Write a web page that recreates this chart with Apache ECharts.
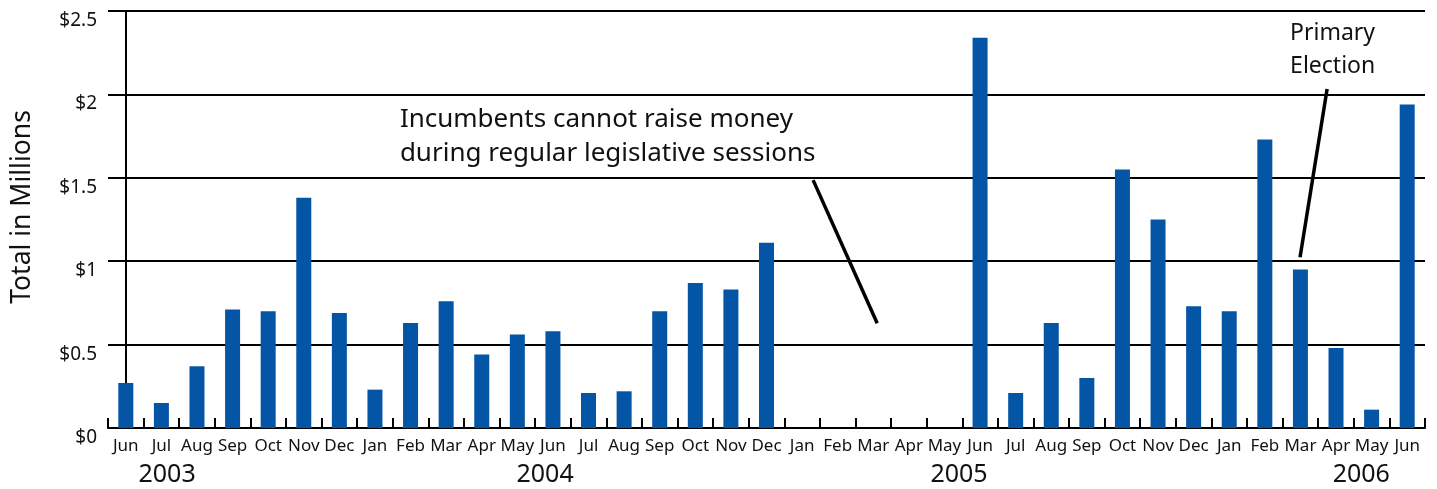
<!DOCTYPE html>
<html>
<head>
<meta charset="utf-8">
<script src="https://cdn.jsdelivr.net/npm/echarts@6/dist/echarts.min.js"></script>
<style>
html,body{margin:0;padding:0;background:#fff;}
#chart{width:1437px;height:489px;}
</style>
</head>
<body>
<div id="chart"></div>
<script>
// ---- data ----
var months = ['Jun','Jul','Aug','Sep','Oct','Nov','Dec',
  'Jan','Feb','Mar','Apr','May','Jun','Jul','Aug','Sep','Oct','Nov','Dec',
  'Jan','Feb','Mar','Apr','May','Jun','Jul','Aug','Sep','Oct','Nov','Dec',
  'Jan','Feb','Mar','Apr','May','Jun'];
var totals = [0.27, 0.15, 0.37, 0.71, 0.70, 1.38, 0.69,
  0.23, 0.63, 0.76, 0.44, 0.56, 0.58, 0.21, 0.22, 0.70, 0.87, 0.83, 1.11,
  0, 0, 0, 0, 0, 2.34, 0.21, 0.63, 0.30, 1.55, 1.25, 0.73,
  0.70, 1.73, 0.95, 0.48, 0.11, 1.94];
var yTicks = [0, 0.5, 1, 1.5, 2, 2.5];
var yearLabels = ['2003', '2004', '2005', '2006'];
var yearPos = [1.16, 11.78, 23.41, 34.71];          // in category units
var sessionNote = ['Incumbents cannot raise money', 'during regular legislative sessions'];
var sessionAnchor = [7.70, 1.846];
var sessionLine = [[19.31, 1.486], [21.11, 0.628]];
var primaryNote = ['Primary', 'Election'];
var primaryAnchor = [32.71, 2.368];
var primaryLine = [[33.75, 2.032], [32.99, 1.024]];

var FONT = '"Noto Sans", "Open Sans", sans-serif';
var chart = echarts.init(document.getElementById('chart'), null, {renderer: 'canvas'});
chart.setOption({
  animation: false,
  backgroundColor: '#fff',
  grid: {left: 108, right: 12, top: 11, bottom: 61, containLabel: false, outerBoundsMode: 'none'},
  xAxis: [{
    type: 'category',
    data: months,
    boundaryGap: true,
    axisLine: {show: true, lineStyle: {color: '#000', width: 2}},
    axisTick: {show: true, inside: true, length: 10, interval: 0, alignWithLabel: false,
      lineStyle: {color: '#000', width: 2}},
    axisLabel: {interval: 0, color: '#111', fontSize: 17, fontFamily: FONT, margin: 10},
    splitLine: {show: false}
  }, {
    type: 'value', min: -0.5, max: months.length - 0.5, show: false,
    position: 'top', splitLine: {show: false}
  }],
  yAxis: {
    type: 'value', min: 0, max: yTicks[yTicks.length - 1], interval: 0.5,
    axisLine: {show: true, lineStyle: {color: '#000', width: 2}},
    axisTick: {show: false},
    splitLine: {show: true, lineStyle: {color: '#000', width: 2}},
    axisLabel: {
      color: '#111', fontSize: 19, fontFamily: FONT, margin: 11,
      verticalAlign: 'top',
      formatter: function (v) { return '$' + v; }
    }
  },
  series: [{
    type: 'bar',
    data: totals,
    barWidth: 15,
    itemStyle: {color: '#0455a5'},
    z: 3
  }]
});

function px(p) { return chart.convertToPixel({xAxisIndex: 1, yAxisIndex: 0}, p); }
var g = [];
// y-axis title
g.push({type: 'text', x: 22, y: 207, rotation: Math.PI / 2, z: 10,
  style: {text: 'Total in Millions', fontSize: 26.5, fontFamily: FONT, fill: '#111',
    align: 'center', verticalAlign: 'middle'}});
// year labels
yearLabels.forEach(function (t, i) {
  var p = px([yearPos[i], 0]);
  g.push({type: 'text', x: p[0], y: 475, z: 10,
    style: {text: t, fontSize: 25, fontFamily: FONT, fill: '#111', align: 'center', verticalAlign: 'middle'}});
});
// session callout
var a = px(sessionAnchor);
g.push({type: 'text', x: a[0], y: a[1], z: 10,
  style: {text: sessionNote.join('\n'), fontSize: 26, lineHeight: 34, fontFamily: FONT, fill: '#111',
    align: 'left', verticalAlign: 'top', padding: [-17, 0, 0, 0]}});
var s0 = px(sessionLine[0]), s1 = px(sessionLine[1]);
g.push({type: 'line', z: 10, shape: {x1: s0[0], y1: s0[1], x2: s1[0], y2: s1[1]},
  style: {stroke: '#000', lineWidth: 3.5}});
// primary callout
var b = px(primaryAnchor);
g.push({type: 'text', x: b[0], y: b[1], z: 10,
  style: {text: primaryNote.join('\n'), fontSize: 23, lineHeight: 33, fontFamily: FONT, fill: '#111',
    align: 'left', verticalAlign: 'top', padding: [-16, 0, 0, 0]}});
var p0 = px(primaryLine[0]), p1 = px(primaryLine[1]);
g.push({type: 'line', z: 10, shape: {x1: p0[0], y1: p0[1], x2: p1[0], y2: p1[1]},
  style: {stroke: '#000', lineWidth: 3.5}});
chart.setOption({graphic: g});
</script>
</body>
</html>
